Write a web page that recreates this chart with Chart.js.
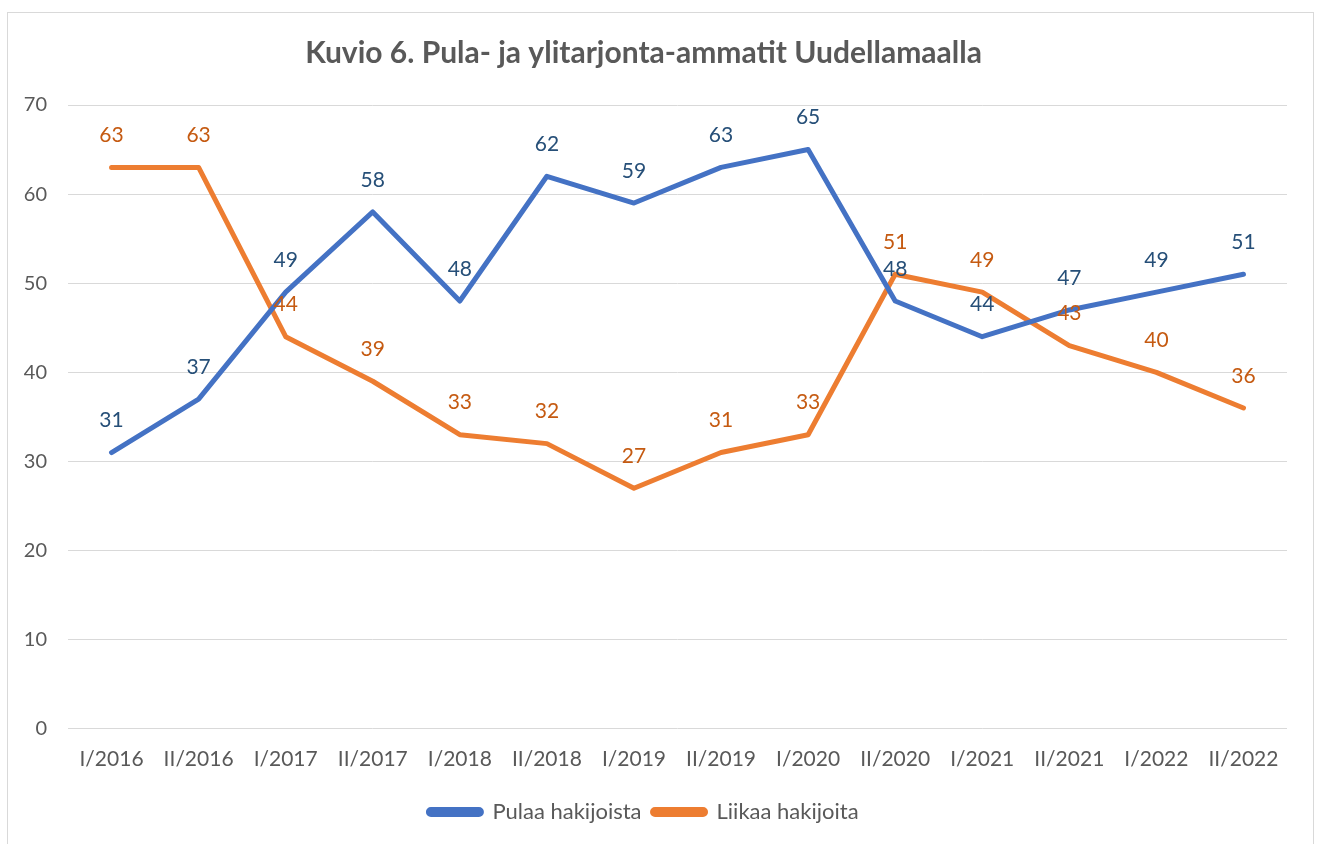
<!DOCTYPE html>
<html lang="fi">
<head>
  <meta charset="UTF-8" />
  <title>Kuvio 6</title>
  <script src="https://cdn.jsdelivr.net/npm/chart.js"></script>
  <style>
    html, body { margin: 0; padding: 0; background: #fff; }
    #wrap { position: relative; width: 1318px; height: 844px; }
    #frame { position: absolute; left: 7px; top: 12px; width: 1305px; height: 840px; border: 1px solid #d9d9d9; }
    canvas { position: absolute; left: 0; top: 0; }
  </style>
</head>
<body>
<div id="wrap">
  <div id="frame"></div>
  <canvas id="chart" width="1318" height="844"></canvas>
</div>

<script>
  const labels = ['I/2016', 'II/2016', 'I/2017', 'II/2017', 'I/2018', 'II/2018', 'I/2019',
                  'II/2019', 'I/2020', 'II/2020', 'I/2021', 'II/2021', 'I/2022', 'II/2022'];
  const pulaa = [31, 37, 49, 58, 48, 62, 59, 63, 65, 48, 44, 47, 49, 51];
  const liikaa = [63, 63, 44, 39, 33, 32, 27, 31, 33, 51, 49, 43, 40, 36];

  const FONT = 'Lato, "Open Sans", sans-serif';
  const TEXT = '#595959';

  // values printed above each point
  const valueLabels = {
    id: 'valueLabels',
    afterDatasetsDraw(chart) {
      const ctx = chart.ctx;
      ctx.save();
      ctx.font = '21px ' + FONT;
      ctx.textAlign = 'center';
      ctx.textBaseline = 'middle';
      chart.data.datasets.forEach((ds, i) => {
        const meta = chart.getDatasetMeta(i);
        ctx.fillStyle = ds.labelColor;
        meta.data.forEach((pt, j) => {
          ctx.fillText(ds.data[j], pt.x, pt.y - 32);
        });
      });
      ctx.restore();
    }
  };

  new Chart(document.getElementById('chart'), {
    type: 'line',
    data: {
      labels,
      datasets: [
        { label: 'Pulaa hakijoista', data: pulaa, borderColor: '#4472C4', backgroundColor: '#4472C4', labelColor: '#264F78' },
        { label: 'Liikaa hakijoita', data: liikaa, borderColor: '#ED7D31', backgroundColor: '#ED7D31', labelColor: '#C55A11' }
      ]
    },
    options: {
      responsive: false,
      animation: false,
      layout: { padding: { left: 0, right: 31, top: 0, bottom: 11 } },
      elements: {
        line: { borderWidth: 5, tension: 0, borderCapStyle: 'round', borderJoinStyle: 'round' },
        point: { radius: 0, hoverRadius: 0 }
      },
      scales: {
        x: {
          offset: true,
          grid: { display: false, drawTicks: false },
          border: { display: false },
          ticks: { color: TEXT, font: { family: FONT, size: 21 }, padding: 18, maxRotation: 0 }
        },
        y: {
          min: 0, max: 70,
          afterFit: s => { s.width = 68; },
          grid: { color: '#d9d9d9', lineWidth: 1, drawTicks: false },
          border: { display: false },
          ticks: { stepSize: 10, color: TEXT, font: { family: FONT, size: 20 }, padding: 21 }
        }
      },
      plugins: {
        title: {
          display: true,
          text: 'Kuvio 6. Pula- ja ylitarjonta-ammatit Uudellamaalla',
          color: TEXT,
          font: { family: FONT, size: 30, weight: 'bold' },
          padding: { top: 35, bottom: 34 }
        },
        legend: {
          position: 'bottom',
          labels: {
            color: TEXT,
            font: { family: FONT, size: 22 },
            boxWidth: 53,
            boxHeight: 5,
            useBorderRadius: true,
            borderRadius: 2.5,
            padding: 11
          }
        },
        tooltip: { enabled: false }
      }
    },
    plugins: [valueLabels]
  });
</script>
</body>
</html>
